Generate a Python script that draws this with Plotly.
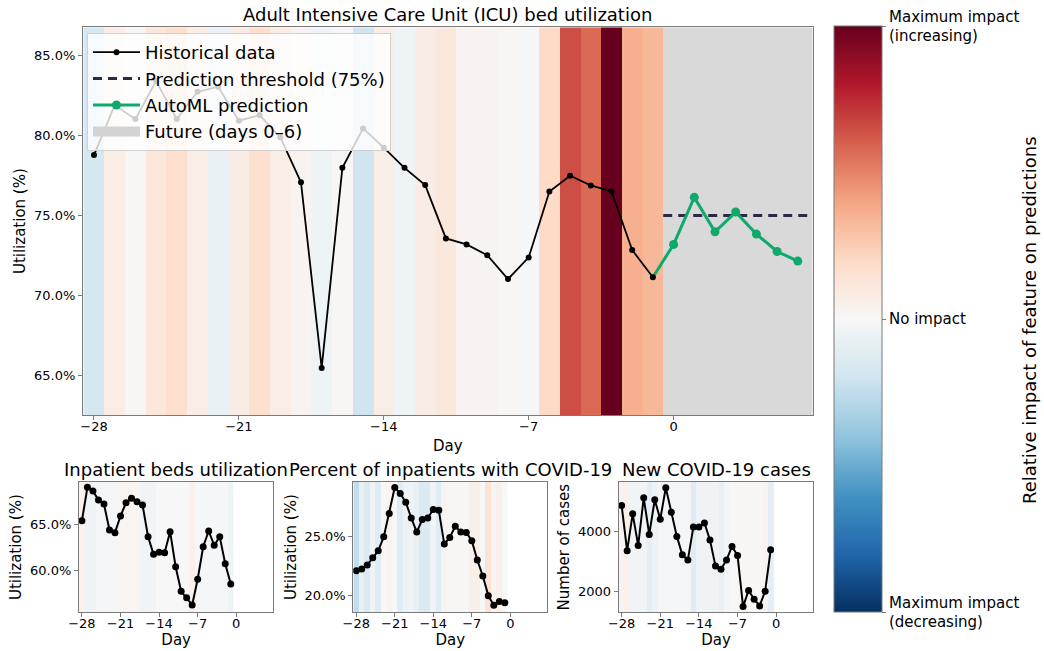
import plotly.graph_objects as go

# ---------------- data ----------------
hist_days = list(range(-28, 0))
pred_days = list(range(0, 7))

icu_util = [78.78, 81.91, 81.03, 83.41, 81.03, 82.74, 83.06, 80.93, 81.28, 79.90,
            77.07, 65.45, 77.98, 80.45, 79.24, 77.98, 76.90, 73.56, 73.18, 72.51,
            71.01, 72.37, 76.50, 77.48, 76.88, 76.50, 72.83, 71.13]
pred_util = [73.18, 76.13, 73.97, 75.21, 73.83, 72.74, 72.14]
threshold = 75.0
icu_impact = [-0.18, 0.07, 0.01, 0.12, 0.17, 0.07, -0.07, 0.08, 0.17, 0.07,
              0.03, -0.05, 0.01, -0.20, 0.07, -0.05, 0.08, 0.11, 0.03, 0.03,
              0.01, -0.01, 0.20, 0.65, 0.57, 1.00, 0.36, 0.33]

inpatient_util = [65.36, 68.99, 68.59, 67.61, 67.17, 64.35, 64.06, 65.87, 67.32, 67.79,
                  67.43, 67.07, 63.62, 61.70, 61.92, 61.88, 64.17, 60.36, 57.68, 56.99,
                  56.20, 58.99, 62.53, 64.24, 62.68, 63.62, 60.69, 58.48]
inpatient_impact = [0.04, -0.04, -0.04, -0.02, -0.02, -0.02, -0.02, 0.02, 0.02, 0.02,
                    0.02, -0.03, -0.03, -0.03, 0.00, 0.00, 0.00, 0.00, 0.00, 0.00,
                    0.05, -0.01, -0.01, -0.01, -0.01, -0.01, -0.01, -0.05]

covid_pct = [22.09, 22.24, 22.57, 23.18, 23.77, 24.94, 26.90, 29.08, 28.58, 27.85,
             26.53, 25.34, 26.40, 26.53, 27.24, 27.18, 24.33, 24.89, 25.84, 25.34,
             25.31, 24.61, 22.99, 21.65, 20.00, 19.19, 19.50, 19.41]
covid_pct_impact = [-0.25, -0.08, -0.15, -0.05, -0.12, 0.00, 0.03, 0.00, -0.12, -0.06,
                    -0.05, -0.08, -0.15, -0.15, -0.03, -0.12, 0.03, 0.01, 0.01, 0.01,
                    0.01, 0.06, 0.06, 0.00, 0.15, 0.02, 0.05, 0.00]

new_cases = [4881, 3356, 4600, 3536, 5142, 3909, 5074, 4417, 5481, 4655,
             3841, 3220, 3051, 4159, 4159, 4295, 3718, 2847, 2735, 3051,
             3502, 3197, 1481, 2024, 1729, 1502, 2000, 3390]
new_cases_impact = [0.03, 0.05, -0.03, -0.03, -0.03, -0.10, -0.06, -0.02, -0.02, -0.02,
                    -0.02, -0.02, -0.02, -0.12, -0.04, -0.04, -0.04, -0.04, -0.08, -0.02,
                    0.00, 0.01, 0.01, 0.01, 0.01, 0.01, 0.03, -0.10]

impact_ticks = [-1, 0, 1]
impact_labels = ["Maximum impact<br>(decreasing)", "No impact", "Maximum impact<br>(increasing)"]

# ---------------- styling ----------------
W, H = 1044, 651
FONT = "DejaVu Sans"
AX_COLOR = "#7a7a7a"
GREEN = "#10a96c"
NAVY = "#2b2a45"
FUTURE_GREY = "#d9d9d9"

# matplotlib-like RdBu_r
RDBU_R = ["rgb(5,48,97)", "rgb(33,102,172)", "rgb(67,147,195)", "rgb(146,197,222)",
          "rgb(209,229,240)", "rgb(247,247,247)", "rgb(253,219,199)", "rgb(244,165,130)",
          "rgb(214,96,77)", "rgb(178,24,43)", "rgb(103,0,31)"]
COLORSCALE = [[i / (len(RDBU_R) - 1), c] for i, c in enumerate(RDBU_R)]

X_RANGE = [-28.53, 6.72]
MAIN_Y = [62.5, 86.78]
S1_Y = [55.4, 69.57]
S2_Y = [18.6, 29.55]
S3_Y = [1288, 5671]


def fx(p):
    return p / W


def fy(p):
    return 1 - p / H


dom = {
    "main": ([fx(83), fx(812.7)], [fy(415), fy(27.3)]),
    "s1": ([fx(79), fx(273.3)], [fy(612.3), fy(482)]),
    "s2": ([fx(353.3), fx(547.3)], [fy(612.3), fy(482)]),
    "s3": ([fx(618.7), fx(813.3)], [fy(612.3), fy(482)]),
}

cell_edges = [d - 0.5 for d in hist_days] + [hist_days[-1] + 0.5]

fig = go.Figure()


def impact_heatmap(values, yrange, xa, ya, show_scale=False):
    hm = go.Heatmap(
        z=[values], x=cell_edges, y=yrange, xaxis=xa, yaxis=ya,
        colorscale=COLORSCALE, zmin=-1, zmax=1, showscale=show_scale,
        hoverinfo="skip",
    )
    if show_scale:
        hm.colorbar = dict(
            x=fx(834.3), xanchor="left", y=fy(26), yanchor="top",
            len=(612.3 - 26) / H, lenmode="fraction",
            thickness=48, thicknessmode="pixels", xpad=0, ypad=0,
            outlinewidth=1, outlinecolor=AX_COLOR,
            tickvals=impact_ticks, ticktext=impact_labels,
            ticks="outside", ticklen=4, tickcolor=AX_COLOR,
            tickfont=dict(family=FONT, size=15, color="black"),
        )
    return hm


# main panel
fig.add_trace(impact_heatmap(icu_impact, MAIN_Y, "x", "y", show_scale=True))

future_x0 = pred_days[0] - 0.5
fig.add_trace(go.Scatter(
    x=[future_x0, X_RANGE[1], X_RANGE[1], future_x0, future_x0],
    y=[MAIN_Y[0], MAIN_Y[0], MAIN_Y[1], MAIN_Y[1], MAIN_Y[0]],
    mode="lines", fill="toself", fillcolor=FUTURE_GREY, line=dict(width=0),
    showlegend=False, hoverinfo="skip", xaxis="x", yaxis="y",
))
# legend patch for the future region
fig.add_trace(go.Scatter(
    x=[None], y=[None], mode="lines", line=dict(color="#d3d3d3", width=13),
    name="Future (days 0\u20136)", legendrank=4, xaxis="x", yaxis="y",
))
fig.add_trace(go.Scatter(
    x=[future_x0, X_RANGE[1]], y=[threshold, threshold],
    mode="lines", line=dict(color=NAVY, width=3, dash="9px,6px"),
    name="Prediction threshold (75%)", legendrank=2, xaxis="x", yaxis="y",
))
fig.add_trace(go.Scatter(
    x=[hist_days[-1], pred_days[0]], y=[icu_util[-1], pred_util[0]],
    mode="lines", line=dict(color=GREEN, width=3), showlegend=False,
    xaxis="x", yaxis="y",
))
fig.add_trace(go.Scatter(
    x=pred_days, y=pred_util, mode="lines+markers",
    line=dict(color=GREEN, width=3), marker=dict(color=GREEN, size=9),
    name="AutoML prediction", legendrank=3, xaxis="x", yaxis="y",
))
fig.add_trace(go.Scatter(
    x=hist_days, y=icu_util, mode="lines+markers",
    line=dict(color="black", width=1.8), marker=dict(color="black", size=6),
    name="Historical data", legendrank=1, xaxis="x", yaxis="y",
))

# small panels
small = [
    ("x2", "y2", inpatient_util, inpatient_impact, S1_Y),
    ("x3", "y3", covid_pct, covid_pct_impact, S2_Y),
    ("x4", "y4", new_cases, new_cases_impact, S3_Y),
]
for xa, ya, vals, imp, yr in small:
    fig.add_trace(impact_heatmap(imp, yr, xa, ya))
    fig.add_trace(go.Scatter(
        x=hist_days, y=vals, mode="lines+markers",
        line=dict(color="black", width=2), marker=dict(color="black", size=7),
        showlegend=False, xaxis=xa, yaxis=ya,
    ))

tick_font = dict(family=FONT, size=13, color="black")
title_font = dict(family=FONT, size=15, color="black")


def xaxis(domain, anchor, standoff):
    return dict(
        domain=domain, anchor=anchor, range=X_RANGE, tickmode="linear", tick0=0, dtick=7,
        showline=True, linecolor=AX_COLOR, linewidth=1, mirror=True,
        ticks="outside", ticklen=4, tickcolor=AX_COLOR, tickfont=tick_font,
        ticklabelstandoff=-5,
        showgrid=False, zeroline=False,
        title=dict(text="Day", font=title_font, standoff=standoff),
    )


def yaxis(domain, anchor, yr, dtick, fmt, suffix, label):
    return dict(
        domain=domain, anchor=anchor, range=yr, tickmode="linear", tick0=0, dtick=dtick,
        tickformat=fmt, ticksuffix=suffix,
        showline=True, linecolor=AX_COLOR, linewidth=1, mirror=True,
        ticks="outside", ticklen=4, tickcolor=AX_COLOR, tickfont=tick_font,
        showgrid=False, zeroline=False,
        title=dict(text=label, font=title_font, standoff=4),
    )


fig.update_layout(
    width=W, height=H,
    margin=dict(l=0, r=0, t=0, b=0, autoexpand=False),
    paper_bgcolor="white", plot_bgcolor="white",
    font=dict(family=FONT, color="black"),
    xaxis=xaxis(dom["main"][0], "y", 7),
    yaxis=yaxis(dom["main"][1], "x", MAIN_Y, 5, ".1f", "%", "Utilization (%)"),
    xaxis2=xaxis(dom["s1"][0], "y2", 4),
    yaxis2=yaxis(dom["s1"][1], "x2", S1_Y, 5, ".1f", "%", "Utilization (%)"),
    xaxis3=xaxis(dom["s2"][0], "y3", 4),
    yaxis3=yaxis(dom["s2"][1], "x3", S2_Y, 5, ".1f", "%", "Utilization (%)"),
    xaxis4=xaxis(dom["s3"][0], "y4", 4),
    yaxis4=yaxis(dom["s3"][1], "x4", S3_Y, 2000, "d", "", "Number of cases"),
    legend=dict(
        x=fx(87), y=fy(33), xanchor="left", yanchor="top",
        bgcolor="rgba(255,255,255,0.8)", bordercolor="#d0d0d0", borderwidth=1,
        font=dict(family=FONT, size=18, color="black"), traceorder="normal",
        itemwidth=47,
    ),
    showlegend=True,
)

panel_titles = [
    ("main", "Adult Intensive Care Unit (ICU) bed utilization"),
    ("s1", "Inpatient beds utilization"),
    ("s2", "Percent of inpatients with COVID-19"),
    ("s3", "New COVID-19 cases"),
]
for key, text in panel_titles:
    xd, yd = dom[key]
    fig.add_annotation(
        text=text, xref="paper", yref="paper",
        x=(xd[0] + xd[1]) / 2, y=yd[1], xanchor="center", yanchor="bottom",
        showarrow=False, font=dict(family=FONT, size=18, color="black"),
    )

fig.add_annotation(
    text="Relative impact of feature on predictions", xref="paper", yref="paper",
    x=fx(1030), y=fy(320), xanchor="center", yanchor="middle", textangle=-90,
    showarrow=False, font=dict(family=FONT, size=18, color="black"),
)

fig.write_html("out.html")
